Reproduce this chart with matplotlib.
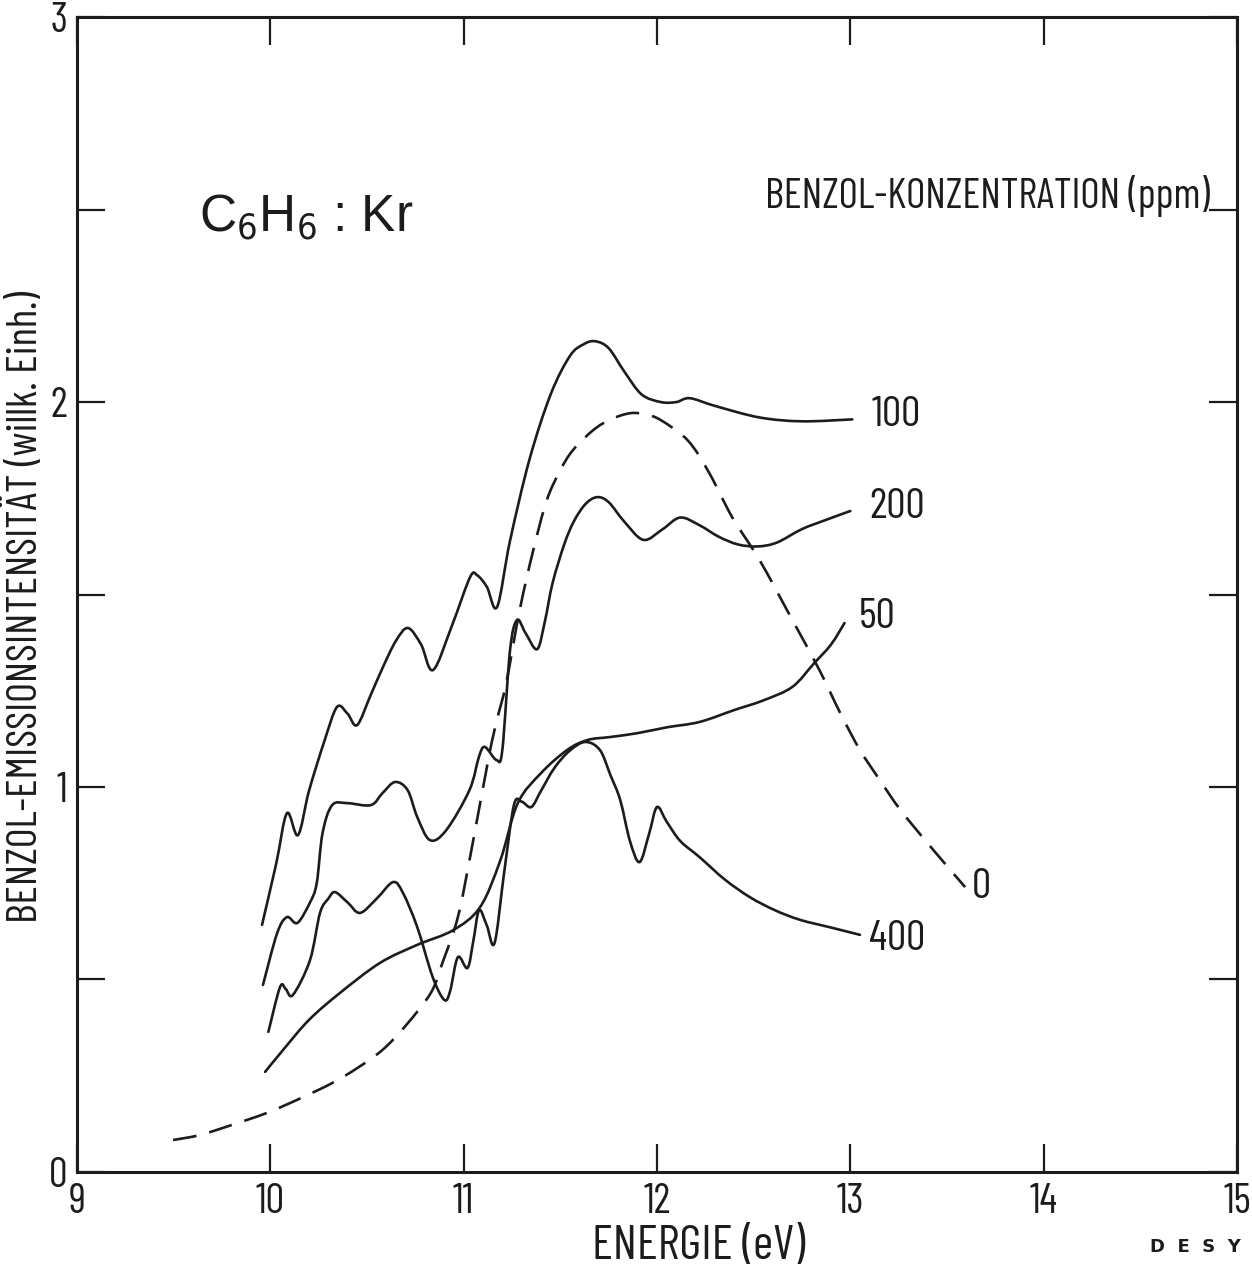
import numpy as np
import matplotlib
matplotlib.use("Agg")
import matplotlib.pyplot as plt
from matplotlib.path import Path
from matplotlib.patches import PathPatch

plt.rcParams['font.family'] = ['Barlow Condensed', 'DejaVu Sans']
plt.rcParams['font.stretch'] = 'condensed'

# Benzol-Emission in Kr-Matrix, Energie in eV, Intensitaet in willk. Einh.
E_100 = [9.957, 10.03, 10.086, 10.143, 10.20, 10.28, 10.345, 10.40, 10.449, 10.52, 10.583,
         10.65, 10.712, 10.78, 10.842, 10.94, 11.033, 11.07, 11.12, 11.173, 11.24, 11.34,
         11.45, 11.55, 11.62, 11.68, 11.75, 11.83, 11.92, 12.02, 12.10, 12.17, 12.30,
         12.53, 12.75, 13.01]
I_100 = [0.642, 0.80, 0.932, 0.875, 0.99, 1.12, 1.208, 1.19, 1.161, 1.24, 1.312,
         1.38, 1.413, 1.37, 1.304, 1.42, 1.545, 1.55, 1.52, 1.468, 1.64, 1.85,
         2.02, 2.12, 2.15, 2.158, 2.14, 2.08, 2.02, 2.0, 2.0, 2.01, 1.99,
         1.96, 1.95, 1.955]

E_200 = [9.962, 10.035, 10.086, 10.14, 10.205, 10.24, 10.27, 10.32, 10.40, 10.52, 10.58,
         10.645, 10.71, 10.76, 10.826, 10.91, 11.03, 11.08, 11.11, 11.17, 11.20, 11.24,
         11.276, 11.32, 11.38, 11.42, 11.46, 11.52, 11.57, 11.63, 11.69, 11.75, 11.83,
         11.93, 12.03, 12.12, 12.22, 12.32, 12.42, 12.52, 12.62, 12.75, 12.88, 13.0]
I_200 = [0.486, 0.62, 0.662, 0.647, 0.70, 0.75, 0.88, 0.953, 0.958, 0.953, 0.984,
         1.013, 0.992, 0.922, 0.862, 0.888, 0.992, 1.08, 1.104, 1.07, 1.096, 1.356,
         1.434, 1.40, 1.358, 1.43, 1.53, 1.63, 1.69, 1.735, 1.753, 1.74, 1.69,
         1.642, 1.67, 1.70, 1.68, 1.65, 1.63, 1.625, 1.635, 1.67, 1.695, 1.717]

E_400 = [9.99, 10.05, 10.08, 10.117, 10.205, 10.257, 10.30, 10.335, 10.40, 10.464, 10.55,
         10.635, 10.686, 10.76, 10.84, 10.90, 10.93, 10.97, 11.02, 11.05, 11.08, 11.12,
         11.16, 11.21, 11.26, 11.30, 11.35, 11.40, 11.47, 11.55, 11.63, 11.705, 11.76,
         11.81, 11.86, 11.91, 11.96, 12.0, 12.05, 12.12, 12.22, 12.35, 12.48, 12.61,
         12.74, 12.90, 13.05]
I_400 = [0.364, 0.48, 0.475, 0.46, 0.55, 0.673, 0.71, 0.727, 0.70, 0.673, 0.71,
         0.753, 0.725, 0.636, 0.506, 0.447, 0.47, 0.558, 0.53, 0.60, 0.68, 0.64,
         0.595, 0.78, 0.953, 0.962, 0.948, 0.99, 1.05, 1.095, 1.117, 1.096, 1.03,
         0.966, 0.86, 0.805, 0.88, 0.948, 0.91, 0.86, 0.818, 0.76, 0.714, 0.68,
         0.655, 0.635, 0.616]

E_50 = [9.973, 10.066, 10.20, 10.36, 10.567, 10.76, 10.945, 11.085, 11.19, 11.28, 11.40,
        11.535, 11.64, 11.76, 11.90, 12.05, 12.22, 12.40, 12.55, 12.70, 12.81, 12.90, 12.97]
I_50 = [0.26, 0.317, 0.395, 0.465, 0.543, 0.59, 0.628, 0.688, 0.81, 0.958, 1.036,
        1.096, 1.122, 1.13, 1.14, 1.155, 1.169, 1.20, 1.225, 1.26, 1.32, 1.37, 1.426]

E_0 = [9.497, 9.636, 9.80, 9.98, 10.15, 10.32, 10.45, 10.58, 10.70, 10.83, 10.89, 10.97,
       11.04, 11.13, 11.17, 11.22, 11.29, 11.36, 11.43, 11.50, 11.565, 11.67, 11.76, 11.86,
       11.94, 12.02, 12.16, 12.27, 12.39, 12.53, 12.70, 12.84, 12.95, 13.05, 13.15, 13.26,
       13.43, 13.594]
I_0 = [0.083, 0.096, 0.122, 0.153, 0.19, 0.231, 0.27, 0.317, 0.38, 0.465, 0.543, 0.662,
       0.836, 1.078, 1.17, 1.27, 1.46, 1.615, 1.745, 1.823, 1.875, 1.927, 1.955, 1.971,
       1.968, 1.953, 1.90, 1.816, 1.70, 1.59, 1.434, 1.304, 1.19, 1.096, 1.02, 0.94,
       0.836, 0.74]

konz_labels = ['100', '200', '50', '400', '0']
label_pos = [(13.24, 1.966), (13.24, 1.725), (13.14, 1.44), (13.24, 0.603), (13.68, 0.738)]

x_ticks = [9, 10, 11, 12, 13, 14, 15]
y_ticks = [0, 0.5, 1, 1.5, 2, 2.5, 3]
y_ticklabels = ['0', '', '1', '', '2', '', '3']

INK = '#1c1c1c'


def smooth_path(x, y):
    # Catmull-Rom durch die Messpunkte, als kubische Bezier-Segmente
    p = np.column_stack([x, y]).astype(float)
    p = np.vstack([p[0], p, p[-1]])
    verts = [p[1]]
    codes = [Path.MOVETO]
    for i in range(1, len(p) - 2):
        c1 = p[i] + (p[i + 1] - p[i - 1]) / 6.0
        c2 = p[i + 1] - (p[i + 2] - p[i]) / 6.0
        verts += [c1, c2, p[i + 1]]
        codes += [Path.CURVE4] * 3
    return Path(verts, codes)


fig = plt.figure(figsize=(12.52, 12.67), dpi=100)
ax = fig.add_axes([0.0615, 0.075, 0.9265, 0.9115])

lw = 1.9
for E, I in [(E_100, I_100), (E_200, I_200), (E_400, I_400), (E_50, I_50)]:
    ax.add_patch(PathPatch(smooth_path(E, I), fill=False, edgecolor=INK, lw=lw,
                           capstyle='round', joinstyle='round'))
ax.add_patch(PathPatch(smooth_path(E_0, I_0), fill=False, edgecolor=INK, lw=lw,
                       linestyle=(0, (9, 5))))

ax.set_xlim(9, 15)
ax.set_ylim(0, 3)
ax.set_xticks(x_ticks)
ax.set_yticks(y_ticks)
ax.set_yticklabels(y_ticklabels)
ax.tick_params(direction='in', length=20, width=1.6, top=True, right=True,
               labelsize=30, colors=INK)
ax.tick_params(axis='x', pad=8)
ax.tick_params(axis='y', pad=7)
for s in ax.spines.values():
    s.set_linewidth(2.2)
    s.set_color(INK)

ax.set_xlabel('ENERGIE (eV)', fontsize=35, color=INK)
ax.xaxis.set_label_coords(0.536, -0.046)
ax.set_ylabel('BENZOL-EMISSIONSINTENSITÄT (willk. Einh.)', fontsize=31, color=INK)
ax.yaxis.set_label_coords(-0.027, 0.489)

for txt, (x, y) in zip(konz_labels, label_pos):
    ax.text(x, y, txt, fontsize=31, ha='center', va='center', color=INK)

ax.text(14.86, 2.535, 'BENZOL-KONZENTRATION (ppm)', fontsize=30, ha='right',
        va='center', color=INK)
ax.text(9.63, 2.48, r'C$_6$H$_6$ : Kr', fontsize=37, ha='left', va='center',
        family='Liberation Sans', stretch='normal', color=INK)
fig.text(0.991, 0.009, 'D  E  S  Y', fontsize=13, ha='right', va='bottom',
         family='DejaVu Sans', stretch='normal', fontweight='bold', color=INK)

fig.savefig('out.png', dpi=100)
